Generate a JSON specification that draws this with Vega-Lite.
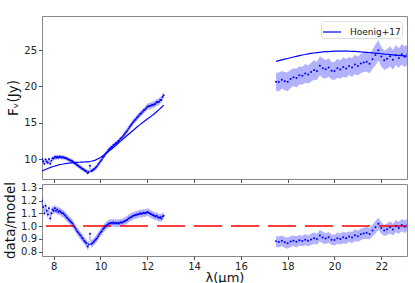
{
  "$schema": "https://vega.github.io/schema/vega-lite/v6.json",
  "padding": {"left": 3, "top": 15, "right": 8, "bottom": 0},
  "config": {
    "font": "DejaVu Sans",
    "view": {"stroke": "#888888", "strokeWidth": 1},
    "axis": {"grid": false, "domain": false, "tickColor": "#555555", "tickSize": 3.5, "labelFontSize": 10, "labelColor": "#222222", "titleFontSize": 13.5, "titleFontWeight": "normal", "titleColor": "#111111", "labelPadding": 2, "titlePadding": 3, "labelOverlap": false, "labelFlush": false},
    "concat": {"spacing": -9},
    "legend": {"orient": "top-right", "offset": 5, "symbolType": "stroke", "symbolStrokeWidth": 1.2, "symbolSize": 324, "labelFontSize": 9, "labelColor": "#222222", "strokeColor": "#dddddd", "fillColor": "white", "padding": 1, "cornerRadius": 3, "labelOffset": 8, "labelLimit": 200}
  },
  "datasets": {
    "d": [
      {"seg":1,"lam":7.50,"model":8.35,"flux":10.02,"ferr":0.3,"ratio":1.200,"rerr":0.03},
      {"seg":1,"lam":7.55,"model":8.42,"flux":9.68,"ferr":0.3,"ratio":1.150,"rerr":0.03},
      {"seg":1,"lam":7.60,"model":8.49,"flux":9.34,"ferr":0.3,"ratio":1.100,"rerr":0.03},
      {"seg":1,"lam":7.65,"model":8.56,"flux":9.93,"ferr":0.3,"ratio":1.160,"rerr":0.03},
      {"seg":1,"lam":7.70,"model":8.63,"flux":9.67,"ferr":0.3,"ratio":1.120,"rerr":0.03},
      {"seg":1,"lam":7.75,"model":8.70,"flux":9.48,"ferr":0.3,"ratio":1.090,"rerr":0.03},
      {"seg":1,"lam":7.80,"model":8.76,"flux":9.99,"ferr":0.3,"ratio":1.140,"rerr":0.03},
      {"seg":1,"lam":7.85,"model":8.82,"flux":9.35,"ferr":0.3,"ratio":1.060,"rerr":0.03},
      {"seg":1,"lam":7.90,"model":8.88,"flux":9.77,"ferr":0.3,"ratio":1.100,"rerr":0.03},
      {"seg":1,"lam":7.95,"model":8.94,"flux":10.10,"ferr":0.3,"ratio":1.130,"rerr":0.03},
      {"seg":1,"lam":8.00,"model":9.00,"flux":10.08,"ferr":0.3,"ratio":1.120,"rerr":0.03},
      {"seg":1,"lam":8.05,"model":9.04,"flux":10.31,"ferr":0.3,"ratio":1.140,"rerr":0.03},
      {"seg":1,"lam":8.10,"model":9.09,"flux":10.18,"ferr":0.3,"ratio":1.120,"rerr":0.03},
      {"seg":1,"lam":8.15,"model":9.13,"flux":10.32,"ferr":0.3,"ratio":1.130,"rerr":0.03},
      {"seg":1,"lam":8.20,"model":9.18,"flux":10.19,"ferr":0.3,"ratio":1.110,"rerr":0.03},
      {"seg":1,"lam":8.25,"model":9.22,"flux":10.33,"ferr":0.3,"ratio":1.120,"rerr":0.03},
      {"seg":1,"lam":8.30,"model":9.25,"flux":10.27,"ferr":0.3,"ratio":1.110,"rerr":0.03},
      {"seg":1,"lam":8.35,"model":9.28,"flux":10.21,"ferr":0.3,"ratio":1.100,"rerr":0.03},
      {"seg":1,"lam":8.40,"model":9.32,"flux":10.25,"ferr":0.3,"ratio":1.100,"rerr":0.03},
      {"seg":1,"lam":8.45,"model":9.35,"flux":10.19,"ferr":0.3,"ratio":1.090,"rerr":0.03},
      {"seg":1,"lam":8.50,"model":9.38,"flux":10.13,"ferr":0.3,"ratio":1.080,"rerr":0.03},
      {"seg":1,"lam":8.55,"model":9.40,"flux":10.06,"ferr":0.3,"ratio":1.070,"rerr":0.03},
      {"seg":1,"lam":8.60,"model":9.42,"flux":9.99,"ferr":0.3,"ratio":1.060,"rerr":0.03},
      {"seg":1,"lam":8.65,"model":9.44,"flux":9.91,"ferr":0.3,"ratio":1.050,"rerr":0.03},
      {"seg":1,"lam":8.70,"model":9.46,"flux":9.84,"ferr":0.3,"ratio":1.040,"rerr":0.03},
      {"seg":1,"lam":8.75,"model":9.48,"flux":9.76,"ferr":0.3,"ratio":1.030,"rerr":0.03},
      {"seg":1,"lam":8.80,"model":9.49,"flux":9.68,"ferr":0.3,"ratio":1.020,"rerr":0.03},
      {"seg":1,"lam":8.85,"model":9.51,"flux":9.56,"ferr":0.3,"ratio":1.005,"rerr":0.03},
      {"seg":1,"lam":8.90,"model":9.52,"flux":9.42,"ferr":0.3,"ratio":0.990,"rerr":0.03},
      {"seg":1,"lam":8.95,"model":9.54,"flux":9.30,"ferr":0.3,"ratio":0.975,"rerr":0.03},
      {"seg":1,"lam":9.00,"model":9.55,"flux":9.17,"ferr":0.3,"ratio":0.960,"rerr":0.03},
      {"seg":1,"lam":9.05,"model":9.56,"flux":9.08,"ferr":0.3,"ratio":0.950,"rerr":0.03},
      {"seg":1,"lam":9.10,"model":9.56,"flux":8.94,"ferr":0.3,"ratio":0.935,"rerr":0.03},
      {"seg":1,"lam":9.15,"model":9.57,"flux":8.85,"ferr":0.3,"ratio":0.925,"rerr":0.03},
      {"seg":1,"lam":9.20,"model":9.57,"flux":8.71,"ferr":0.3,"ratio":0.910,"rerr":0.03},
      {"seg":1,"lam":9.25,"model":9.58,"flux":8.62,"ferr":0.3,"ratio":0.900,"rerr":0.03},
      {"seg":1,"lam":9.30,"model":9.59,"flux":8.49,"ferr":0.3,"ratio":0.885,"rerr":0.03},
      {"seg":1,"lam":9.35,"model":9.60,"flux":8.40,"ferr":0.3,"ratio":0.875,"rerr":0.03},
      {"seg":1,"lam":9.40,"model":9.61,"flux":8.31,"ferr":0.3,"ratio":0.865,"rerr":0.03},
      {"seg":1,"lam":9.45,"model":9.62,"flux":8.08,"ferr":0.3,"ratio":0.840,"rerr":0.03},
      {"seg":1,"lam":9.50,"model":9.63,"flux":8.23,"ferr":0.3,"ratio":0.855,"rerr":0.03},
      {"seg":1,"lam":9.55,"model":9.66,"flux":9.08,"ferr":0.3,"ratio":0.940,"rerr":0.03},
      {"seg":1,"lam":9.60,"model":9.70,"flux":8.34,"ferr":0.3,"ratio":0.860,"rerr":0.03},
      {"seg":1,"lam":9.65,"model":9.73,"flux":8.42,"ferr":0.3,"ratio":0.865,"rerr":0.03},
      {"seg":1,"lam":9.70,"model":9.77,"flux":8.55,"ferr":0.3,"ratio":0.875,"rerr":0.03},
      {"seg":1,"lam":9.75,"model":9.80,"flux":8.67,"ferr":0.3,"ratio":0.885,"rerr":0.03},
      {"seg":1,"lam":9.80,"model":9.88,"flux":8.84,"ferr":0.3,"ratio":0.895,"rerr":0.03},
      {"seg":1,"lam":9.85,"model":9.96,"flux":9.01,"ferr":0.3,"ratio":0.905,"rerr":0.03},
      {"seg":1,"lam":9.90,"model":10.04,"flux":9.24,"ferr":0.3,"ratio":0.920,"rerr":0.03},
      {"seg":1,"lam":9.95,"model":10.12,"flux":9.46,"ferr":0.3,"ratio":0.935,"rerr":0.03},
      {"seg":1,"lam":10.00,"model":10.20,"flux":9.69,"ferr":0.3,"ratio":0.950,"rerr":0.03},
      {"seg":1,"lam":10.05,"model":10.32,"flux":9.91,"ferr":0.3,"ratio":0.960,"rerr":0.03},
      {"seg":1,"lam":10.10,"model":10.44,"flux":10.18,"ferr":0.3,"ratio":0.975,"rerr":0.03},
      {"seg":1,"lam":10.15,"model":10.56,"flux":10.40,"ferr":0.3,"ratio":0.985,"rerr":0.03},
      {"seg":1,"lam":10.20,"model":10.68,"flux":10.63,"ferr":0.3,"ratio":0.995,"rerr":0.03},
      {"seg":1,"lam":10.25,"model":10.80,"flux":10.85,"ferr":0.3,"ratio":1.005,"rerr":0.03},
      {"seg":1,"lam":10.30,"model":10.93,"flux":11.04,"ferr":0.3,"ratio":1.010,"rerr":0.03},
      {"seg":1,"lam":10.35,"model":11.06,"flux":11.28,"ferr":0.3,"ratio":1.020,"rerr":0.03},
      {"seg":1,"lam":10.40,"model":11.19,"flux":11.41,"ferr":0.3,"ratio":1.020,"rerr":0.03},
      {"seg":1,"lam":10.45,"model":11.32,"flux":11.60,"ferr":0.3,"ratio":1.025,"rerr":0.03},
      {"seg":1,"lam":10.50,"model":11.45,"flux":11.68,"ferr":0.3,"ratio":1.020,"rerr":0.03},
      {"seg":1,"lam":10.55,"model":11.59,"flux":11.94,"ferr":0.3,"ratio":1.030,"rerr":0.03},
      {"seg":1,"lam":10.60,"model":11.73,"flux":11.96,"ferr":0.3,"ratio":1.020,"rerr":0.03},
      {"seg":1,"lam":10.65,"model":11.87,"flux":12.17,"ferr":0.3,"ratio":1.025,"rerr":0.03},
      {"seg":1,"lam":10.70,"model":12.01,"flux":12.25,"ferr":0.3,"ratio":1.020,"rerr":0.03},
      {"seg":1,"lam":10.75,"model":12.15,"flux":12.45,"ferr":0.3,"ratio":1.025,"rerr":0.03},
      {"seg":1,"lam":10.80,"model":12.29,"flux":12.54,"ferr":0.3,"ratio":1.020,"rerr":0.03},
      {"seg":1,"lam":10.85,"model":12.43,"flux":12.80,"ferr":0.3,"ratio":1.030,"rerr":0.03},
      {"seg":1,"lam":10.90,"model":12.57,"flux":12.88,"ferr":0.3,"ratio":1.025,"rerr":0.03},
      {"seg":1,"lam":10.95,"model":12.71,"flux":13.09,"ferr":0.3,"ratio":1.030,"rerr":0.03},
      {"seg":1,"lam":11.00,"model":12.85,"flux":13.30,"ferr":0.38,"ratio":1.035,"rerr":0.03},
      {"seg":1,"lam":11.05,"model":12.99,"flux":13.51,"ferr":0.38,"ratio":1.040,"rerr":0.03},
      {"seg":1,"lam":11.10,"model":13.13,"flux":13.72,"ferr":0.38,"ratio":1.045,"rerr":0.03},
      {"seg":1,"lam":11.15,"model":13.27,"flux":13.93,"ferr":0.38,"ratio":1.050,"rerr":0.03},
      {"seg":1,"lam":11.20,"model":13.41,"flux":14.21,"ferr":0.38,"ratio":1.060,"rerr":0.03},
      {"seg":1,"lam":11.25,"model":13.55,"flux":14.43,"ferr":0.38,"ratio":1.065,"rerr":0.03},
      {"seg":1,"lam":11.30,"model":13.69,"flux":14.65,"ferr":0.38,"ratio":1.070,"rerr":0.03},
      {"seg":1,"lam":11.35,"model":13.83,"flux":14.87,"ferr":0.38,"ratio":1.075,"rerr":0.03},
      {"seg":1,"lam":11.40,"model":13.97,"flux":15.09,"ferr":0.38,"ratio":1.080,"rerr":0.03},
      {"seg":1,"lam":11.45,"model":14.11,"flux":15.31,"ferr":0.38,"ratio":1.085,"rerr":0.03},
      {"seg":1,"lam":11.50,"model":14.25,"flux":15.46,"ferr":0.38,"ratio":1.085,"rerr":0.03},
      {"seg":1,"lam":11.55,"model":14.38,"flux":15.67,"ferr":0.38,"ratio":1.090,"rerr":0.03},
      {"seg":1,"lam":11.60,"model":14.51,"flux":15.82,"ferr":0.38,"ratio":1.090,"rerr":0.03},
      {"seg":1,"lam":11.65,"model":14.64,"flux":16.03,"ferr":0.38,"ratio":1.095,"rerr":0.03},
      {"seg":1,"lam":11.70,"model":14.77,"flux":16.25,"ferr":0.38,"ratio":1.100,"rerr":0.03},
      {"seg":1,"lam":11.75,"model":14.90,"flux":16.32,"ferr":0.38,"ratio":1.095,"rerr":0.03},
      {"seg":1,"lam":11.80,"model":15.02,"flux":16.52,"ferr":0.38,"ratio":1.100,"rerr":0.03},
      {"seg":1,"lam":11.85,"model":15.14,"flux":16.73,"ferr":0.38,"ratio":1.105,"rerr":0.03},
      {"seg":1,"lam":11.90,"model":15.26,"flux":16.79,"ferr":0.38,"ratio":1.100,"rerr":0.03},
      {"seg":1,"lam":11.95,"model":15.38,"flux":17.00,"ferr":0.38,"ratio":1.105,"rerr":0.03},
      {"seg":1,"lam":12.00,"model":15.50,"flux":17.21,"ferr":0.45,"ratio":1.110,"rerr":0.03},
      {"seg":1,"lam":12.05,"model":15.62,"flux":17.26,"ferr":0.45,"ratio":1.105,"rerr":0.03},
      {"seg":1,"lam":12.10,"model":15.74,"flux":17.31,"ferr":0.45,"ratio":1.100,"rerr":0.03},
      {"seg":1,"lam":12.15,"model":15.86,"flux":17.37,"ferr":0.45,"ratio":1.095,"rerr":0.03},
      {"seg":1,"lam":12.20,"model":15.98,"flux":17.42,"ferr":0.45,"ratio":1.090,"rerr":0.03},
      {"seg":1,"lam":12.25,"model":16.10,"flux":17.47,"ferr":0.45,"ratio":1.085,"rerr":0.03},
      {"seg":1,"lam":12.30,"model":16.24,"flux":17.54,"ferr":0.45,"ratio":1.080,"rerr":0.03},
      {"seg":1,"lam":12.35,"model":16.38,"flux":17.61,"ferr":0.45,"ratio":1.075,"rerr":0.03},
      {"seg":1,"lam":12.40,"model":16.52,"flux":17.84,"ferr":0.45,"ratio":1.080,"rerr":0.03},
      {"seg":1,"lam":12.45,"model":16.66,"flux":17.83,"ferr":0.45,"ratio":1.070,"rerr":0.03},
      {"seg":1,"lam":12.50,"model":16.80,"flux":17.89,"ferr":0.45,"ratio":1.065,"rerr":0.03},
      {"seg":1,"lam":12.55,"model":16.95,"flux":18.14,"ferr":0.45,"ratio":1.070,"rerr":0.03},
      {"seg":1,"lam":12.60,"model":17.10,"flux":18.13,"ferr":0.45,"ratio":1.060,"rerr":0.03},
      {"seg":1,"lam":12.65,"model":17.25,"flux":18.54,"ferr":0.45,"ratio":1.075,"rerr":0.03},
      {"seg":1,"lam":12.70,"model":17.40,"flux":18.79,"ferr":0.45,"ratio":1.080,"rerr":0.03},
      {"seg":2,"lam":17.500,"model":23.45,"flux":20.64,"ferr":1.25,"ratio":0.880,"rerr":0.042},
      {"seg":2,"lam":17.625,"model":23.55,"flux":20.61,"ferr":1.30,"ratio":0.875,"rerr":0.044},
      {"seg":2,"lam":17.750,"model":23.65,"flux":20.93,"ferr":1.20,"ratio":0.885,"rerr":0.041},
      {"seg":2,"lam":17.875,"model":23.75,"flux":20.71,"ferr":1.25,"ratio":0.872,"rerr":0.042},
      {"seg":2,"lam":18.000,"model":23.85,"flux":20.65,"ferr":1.30,"ratio":0.866,"rerr":0.044},
      {"seg":2,"lam":18.125,"model":23.95,"flux":21.03,"ferr":1.25,"ratio":0.878,"rerr":0.042},
      {"seg":2,"lam":18.250,"model":24.05,"flux":21.26,"ferr":1.20,"ratio":0.884,"rerr":0.041},
      {"seg":2,"lam":18.375,"model":24.15,"flux":21.16,"ferr":1.30,"ratio":0.876,"rerr":0.044},
      {"seg":2,"lam":18.500,"model":24.25,"flux":21.53,"ferr":1.25,"ratio":0.888,"rerr":0.042},
      {"seg":2,"lam":18.625,"model":24.33,"flux":21.46,"ferr":1.20,"ratio":0.882,"rerr":0.041},
      {"seg":2,"lam":18.750,"model":24.40,"flux":21.79,"ferr":1.30,"ratio":0.893,"rerr":0.044},
      {"seg":2,"lam":18.875,"model":24.48,"flux":21.64,"ferr":1.25,"ratio":0.884,"rerr":0.042},
      {"seg":2,"lam":19.000,"model":24.55,"flux":21.97,"ferr":1.30,"ratio":0.895,"rerr":0.044},
      {"seg":2,"lam":19.125,"model":24.60,"flux":22.26,"ferr":1.35,"ratio":0.905,"rerr":0.046},
      {"seg":2,"lam":19.250,"model":24.65,"flux":22.14,"ferr":1.25,"ratio":0.898,"rerr":0.042},
      {"seg":2,"lam":19.375,"model":24.70,"flux":22.85,"ferr":1.30,"ratio":0.925,"rerr":0.044},
      {"seg":2,"lam":19.500,"model":24.75,"flux":22.52,"ferr":1.35,"ratio":0.910,"rerr":0.046},
      {"seg":2,"lam":19.625,"model":24.78,"flux":22.35,"ferr":1.25,"ratio":0.902,"rerr":0.042},
      {"seg":2,"lam":19.750,"model":24.80,"flux":22.62,"ferr":1.30,"ratio":0.912,"rerr":0.044},
      {"seg":2,"lam":19.875,"model":24.83,"flux":22.17,"ferr":1.20,"ratio":0.893,"rerr":0.041},
      {"seg":2,"lam":20.000,"model":24.85,"flux":22.12,"ferr":1.25,"ratio":0.890,"rerr":0.042},
      {"seg":2,"lam":20.125,"model":24.86,"flux":22.50,"ferr":1.30,"ratio":0.905,"rerr":0.044},
      {"seg":2,"lam":20.250,"model":24.86,"flux":22.32,"ferr":1.25,"ratio":0.898,"rerr":0.042},
      {"seg":2,"lam":20.375,"model":24.87,"flux":22.68,"ferr":1.35,"ratio":0.912,"rerr":0.046},
      {"seg":2,"lam":20.500,"model":24.87,"flux":22.48,"ferr":1.30,"ratio":0.904,"rerr":0.044},
      {"seg":2,"lam":20.625,"model":24.85,"flux":22.81,"ferr":1.25,"ratio":0.918,"rerr":0.042},
      {"seg":2,"lam":20.750,"model":24.84,"flux":22.60,"ferr":1.30,"ratio":0.910,"rerr":0.044},
      {"seg":2,"lam":20.875,"model":24.82,"flux":23.03,"ferr":1.35,"ratio":0.928,"rerr":0.046},
      {"seg":2,"lam":21.000,"model":24.80,"flux":22.82,"ferr":1.30,"ratio":0.920,"rerr":0.044},
      {"seg":2,"lam":21.125,"model":24.76,"flux":23.15,"ferr":1.35,"ratio":0.935,"rerr":0.046},
      {"seg":2,"lam":21.250,"model":24.73,"flux":23.30,"ferr":1.30,"ratio":0.942,"rerr":0.044},
      {"seg":2,"lam":21.375,"model":24.69,"flux":23.41,"ferr":1.40,"ratio":0.948,"rerr":0.048},
      {"seg":2,"lam":21.500,"model":24.65,"flux":23.12,"ferr":1.30,"ratio":0.938,"rerr":0.044},
      {"seg":2,"lam":21.625,"model":24.61,"flux":23.75,"ferr":1.35,"ratio":0.965,"rerr":0.046},
      {"seg":2,"lam":21.750,"model":24.58,"flux":24.33,"ferr":1.45,"ratio":0.990,"rerr":0.049},
      {"seg":2,"lam":21.875,"model":24.54,"flux":24.98,"ferr":1.40,"ratio":1.018,"rerr":0.048},
      {"seg":2,"lam":22.000,"model":24.50,"flux":24.13,"ferr":1.35,"ratio":0.985,"rerr":0.046},
      {"seg":2,"lam":22.125,"model":24.46,"flux":23.60,"ferr":1.30,"ratio":0.965,"rerr":0.044},
      {"seg":2,"lam":22.250,"model":24.43,"flux":23.82,"ferr":1.35,"ratio":0.975,"rerr":0.046},
      {"seg":2,"lam":22.375,"model":24.39,"flux":24.15,"ferr":1.40,"ratio":0.990,"rerr":0.048},
      {"seg":2,"lam":22.500,"model":24.35,"flux":23.67,"ferr":1.35,"ratio":0.972,"rerr":0.046},
      {"seg":2,"lam":22.625,"model":24.31,"flux":24.31,"ferr":1.40,"ratio":1.000,"rerr":0.048},
      {"seg":2,"lam":22.750,"model":24.28,"flux":23.92,"ferr":1.35,"ratio":0.985,"rerr":0.046},
      {"seg":2,"lam":22.875,"model":24.24,"flux":24.43,"ferr":1.40,"ratio":1.008,"rerr":0.048},
      {"seg":2,"lam":23.000,"model":24.20,"flux":24.08,"ferr":1.45,"ratio":0.995,"rerr":0.049},
      {"seg":2,"lam":23.125,"model":24.16,"flux":24.40,"ferr":1.40,"ratio":1.010,"rerr":0.048}
    ]
  },
  "vconcat": [
    {
      "width": 365,
      "height": 163,
      "data": {"name": "d"},
      "encoding": {
        "x": {"field": "lam", "type": "quantitative", "scale": {"domain": [7.5, 23.1], "nice": false, "zero": false}, "axis": {"values": [8, 10, 12, 14, 16, 18, 20, 22], "labels": false, "title": null, "minExtent": 0, "maxExtent": 3, "labelPadding": 0}}
      },
      "layer": [
        {
          "mark": {"type": "errorband", "color": "#0000ff", "band": {"opacity": 0.3}, "clip": true},
          "encoding": {
            "y": {"field": "flux", "type": "quantitative", "scale": {"domain": [7.25, 29.7], "nice": false, "zero": false}, "axis": {"values": [10, 15, 20, 25], "title": "Fᵥ(Jy)"}},
            "yError": {"field": "ferr"},
            "detail": {"field": "seg", "type": "nominal"}
          }
        },
        {
          "mark": {"type": "line", "strokeWidth": 1.2, "clip": true},
          "encoding": {
            "y": {"field": "model", "type": "quantitative", "axis": {"values": [10, 15, 20, 25], "title": "Fᵥ(Jy)"}},
            "detail": {"field": "seg", "type": "nominal"},
            "color": {"datum": "Hoenig+17", "type": "nominal", "scale": {"range": ["#0000ff"]}, "legend": {"title": null}}
          }
        },
        {
          "mark": {"type": "circle", "size": 4, "color": "#0000ff", "opacity": 1, "clip": true},
          "encoding": {
            "y": {"field": "flux", "type": "quantitative", "axis": {"values": [10, 15, 20, 25], "title": "Fᵥ(Jy)"}}
          }
        }
      ]
    },
    {
      "width": 365,
      "height": 72,
      "encoding": {
        "x": {"field": "lam", "type": "quantitative", "scale": {"domain": [7.5, 23.1], "nice": false, "zero": false}, "axis": {"values": [8, 10, 12, 14, 16, 18, 20, 22], "title": "λ(μm)", "titleFontSize": 13, "titleY": 25, "titleBaseline": "alphabetic"}}
      },
      "layer": [
        {
          "data": {"name": "d"},
          "mark": {"type": "errorband", "color": "#0000ff", "band": {"opacity": 0.3}, "clip": true},
          "encoding": {
            "y": {"field": "ratio", "type": "quantitative", "scale": {"domain": [0.765, 1.33], "nice": false, "zero": false}, "axis": {"values": [0.8, 0.9, 1.0, 1.1, 1.2, 1.3], "format": ".1f", "title": "data/model", "labelOverlap": false}},
            "yError": {"field": "rerr"},
            "detail": {"field": "seg", "type": "nominal"}
          }
        },
        {
          "data": {"values": [{"one": 1.0}]},
          "mark": {"type": "rule", "color": "#ff0000", "strokeWidth": 1.5, "strokeDash": [28, 9]},
          "encoding": {
            "x": null,
            "y": {"field": "one", "type": "quantitative", "axis": {"values": [0.8, 0.9, 1.0, 1.1, 1.2, 1.3], "format": ".1f", "title": "data/model", "labelOverlap": false}}
          }
        },
        {
          "data": {"name": "d"},
          "mark": {"type": "circle", "size": 4, "color": "#0000ff", "opacity": 1, "clip": true},
          "encoding": {
            "y": {"field": "ratio", "type": "quantitative", "axis": {"values": [0.8, 0.9, 1.0, 1.1, 1.2, 1.3], "format": ".1f", "title": "data/model", "labelOverlap": false}}
          }
        }
      ]
    }
  ]
}
